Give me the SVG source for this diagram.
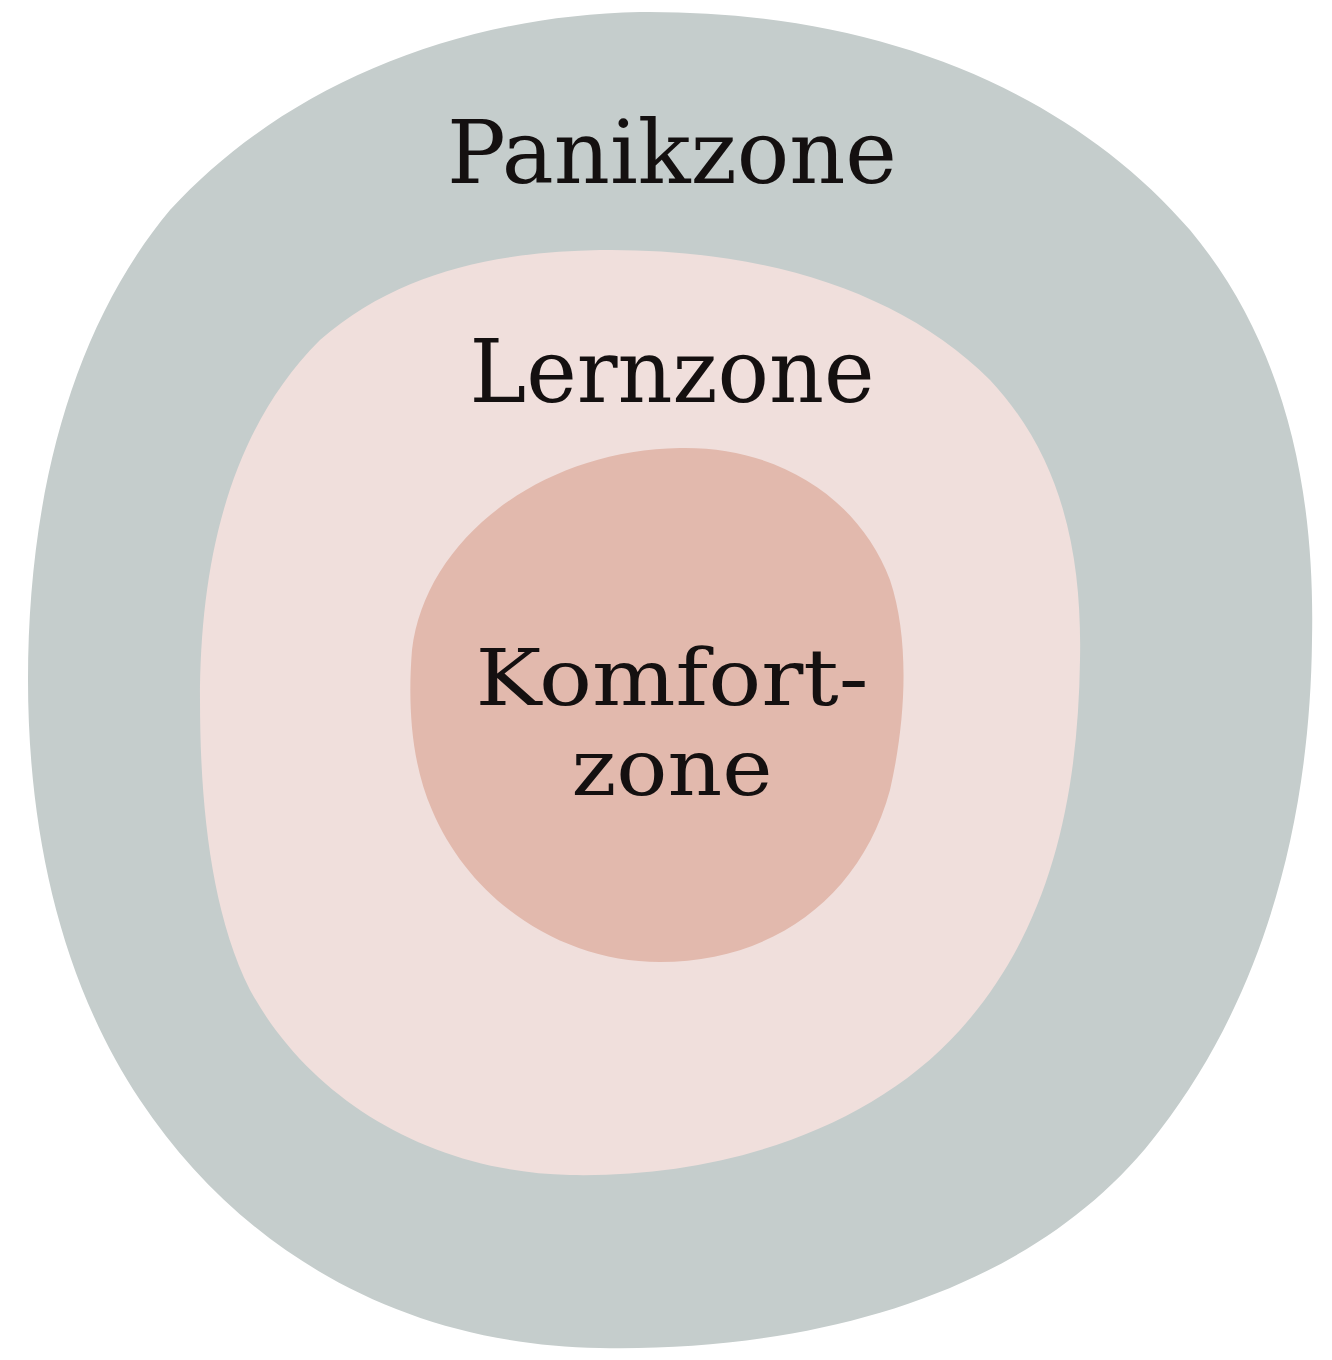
<svg xmlns="http://www.w3.org/2000/svg" width="1332" height="1360" viewBox="0 0 1332 1360">
<style>
.lbl{font-family:"DejaVu Serif","Liberation Serif",serif;font-size:88px;fill:#141010;}
.sm{font-size:78px;}
</style>
<rect width="1332" height="1360" fill="#ffffff"/>
<g id="panikzone">
<path d="M640,12 C860,10 1060,80 1190,230 C1290,350 1315,500 1312,640 C1310,830 1260,1000 1160,1130 C1040,1290 820,1352 600,1348 C400,1345 240,1250 140,1100 C60,980 28,830 28,680 C28,500 70,330 170,210 C280,90 450,16 640,12 Z" fill="#c5cdcc"/>
<text class="lbl" x="672" y="183" text-anchor="middle" textLength="450" lengthAdjust="spacingAndGlyphs">Panikzone</text>
</g>
<g id="lernzone">
<path d="M600,250 C760,248 900,290 990,380 C1065,460 1082,560 1080,660 C1078,800 1050,930 960,1030 C870,1130 720,1178 570,1175 C430,1172 310,1100 250,990 C210,910 200,800 200,700 C200,560 230,430 320,340 C400,270 500,252 600,250 Z" fill="#f0dfdc"/>
<text class="lbl" x="672" y="402" text-anchor="middle" textLength="405" lengthAdjust="spacingAndGlyphs">Lernzone</text>
</g>
<g id="komfortzone">
<path d="M680,448 C780,446 860,500 890,580 C910,640 906,720 890,790 C860,900 770,962 660,962 C560,962 470,900 432,810 C410,760 408,700 412,650 C425,540 540,450 680,448 Z" fill="#e2b9ad"/>
<text class="lbl sm" x="672" y="705" text-anchor="middle" textLength="393" lengthAdjust="spacingAndGlyphs">Komfort-</text>
<text class="lbl sm" x="672" y="795" text-anchor="middle" textLength="201" lengthAdjust="spacingAndGlyphs">zone</text>
</g>
</svg>
